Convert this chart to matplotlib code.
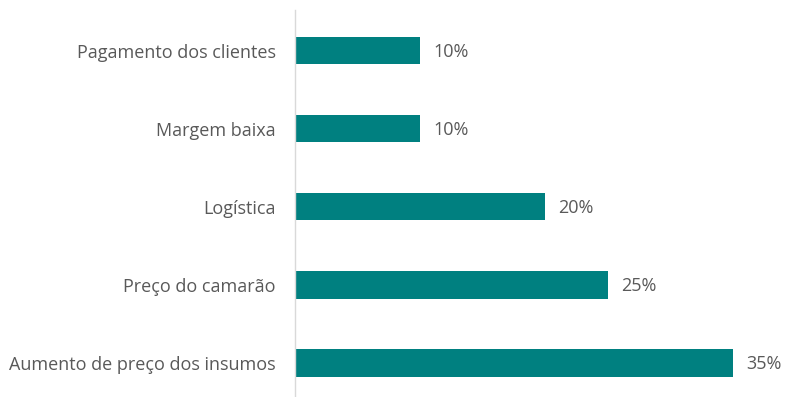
import matplotlib
matplotlib.use("Agg")
import matplotlib.pyplot as plt

categories = ["Pagamento dos clientes", "Margem baixa", "Logística",
              "Preço do camarão", "Aumento de preço dos insumos"]
values = [10, 10, 20, 25, 35]
value_labels = ["10%", "10%", "20%", "25%", "35%"]

plt.rcParams["font.family"] = ["Open Sans", "DejaVu Sans"]
text_color = "#595959"
bar_color = "#008080"

fig = plt.figure(figsize=(7.85, 3.97), dpi=100)
ax = fig.add_axes([295 / 785, 0, 1 - 295 / 785, 1 - 10 / 397])

pos = list(range(len(categories)))
ax.barh(pos, values, height=0.35, color=bar_color)
ax.set_ylim(4.435, -0.52)
ax.set_xlim(0, 490 / 12.52)

ax.set_yticks(pos)
ax.set_yticklabels(categories, fontsize=13, color=text_color)
ax.tick_params(axis="y", length=0, pad=13.7)
ax.set_xticks([])

for p, v, lab in zip(pos, values, value_labels):
    ax.annotate(lab, (v, p), xytext=(13, -1), textcoords="offset pixels",
                va="center", ha="left", fontsize=13, color=text_color)

for s in ["top", "right", "bottom"]:
    ax.spines[s].set_visible(False)
ax.spines["left"].set_color("#d9d9d9")
ax.spines["left"].set_linewidth(1)

fig.savefig("out.png", dpi=100)
